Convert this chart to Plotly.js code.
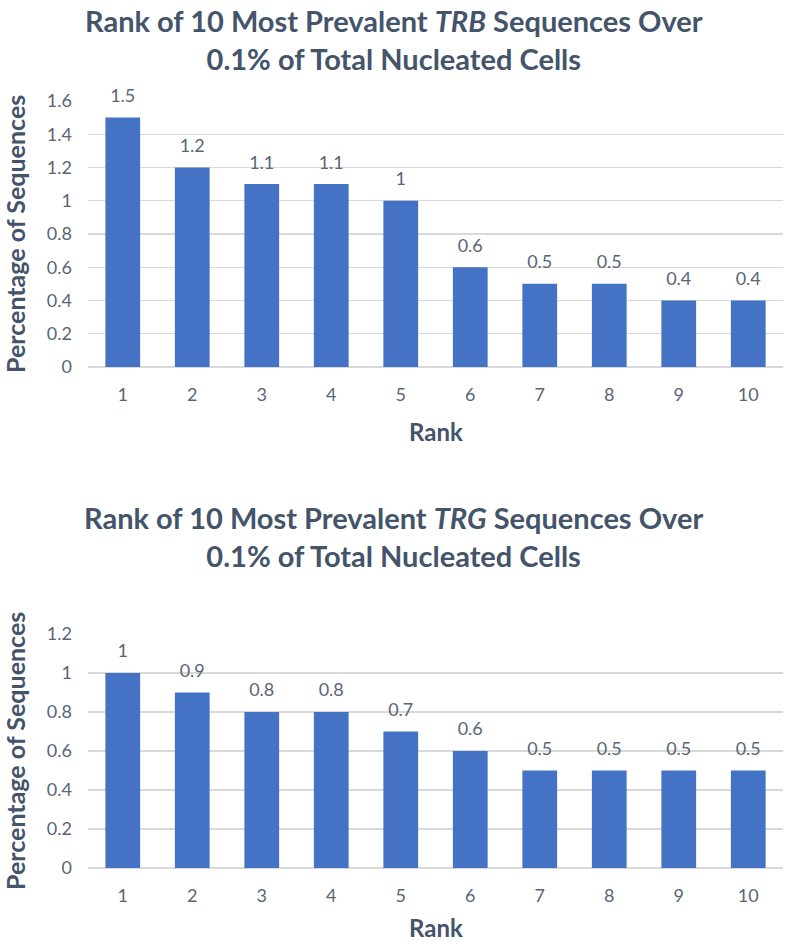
<!DOCTYPE html>
<html>
<head>
<meta charset="utf-8">
<script src="https://cdn.plot.ly/plotly-3.0.1.min.js"></script>
<style>html,body{margin:0;padding:0;background:#fff;}#chart{width:787px;height:942px;}</style>
</head>
<body>
<div id="chart"></div>
<script>
const ranks = ["1","2","3","4","5","6","7","8","9","10"];
const trbValues = [1.5, 1.2, 1.1, 1.1, 1, 0.6, 0.5, 0.5, 0.4, 0.4];
const trgValues = [1, 0.9, 0.8, 0.8, 0.7, 0.6, 0.5, 0.5, 0.5, 0.5];
const trbTicks = [0, 0.2, 0.4, 0.6, 0.8, 1, 1.2, 1.4, 1.6];
const trgTicks = [0, 0.2, 0.4, 0.6, 0.8, 1, 1.2];
const titleTop = "Rank of 10 Most Prevalent <i>TRB</i> Sequences Over<br>0.1% of Total Nucleated Cells";
const titleBottom = "Rank of 10 Most Prevalent <i>TRG</i> Sequences Over<br>0.1% of Total Nucleated Cells";
const xTitle = "Rank";
const yTitle = "Percentage of Sequences";

const FONT = "Lato, 'Open Sans', sans-serif";
const BAR = "#4472C4";
const TITLEC = "#44546A";
const TICKC = "#5A6577";

function barTrace(vals, xa, ya) {
  return {
    type: "bar", x: ranks, y: vals, xaxis: xa, yaxis: ya,
    marker: {color: BAR}, hoverinfo: "skip"
  };
}
function labelTrace(vals, xa, ya) {
  return {
    type: "scatter", mode: "markers+text", x: ranks, y: vals, xaxis: xa, yaxis: ya,
    text: vals.map(v => String(v)), textposition: "top center",
    textfont: {family: FONT, size: 18, color: TICKC},
    marker: {size: 16, opacity: 0}, cliponaxis: false, hoverinfo: "skip"
  };
}

const axX = {
  type: "category", range: [-0.5, ranks.length - 0.5], autorange: false,
  showgrid: false, zeroline: false, showline: false,
  ticks: "", tickfont: {family: FONT, size: 18, color: TICKC}, ticklabelstandoff: 15
};
function axY(ticks, range, domain) {
  return {
    domain: domain, range: range, tickvals: ticks, ticktext: ticks.map(String),
    showgrid: true, gridcolor: "#D9D9D9", gridwidth: 1.3,
    zeroline: true, zerolinecolor: "#D9D9D9", zerolinewidth: 1.5,
    showline: false, ticks: "", tickfont: {family: FONT, size: 18, color: TICKC},
    ticklabelstandoff: 15
  };
}

const TX = (393.5 - 88) / 695;
const layout = {
  width: 787, height: 942,
  margin: {l: 88, r: 4, t: 0, b: 0},
  paper_bgcolor: "#fff", plot_bgcolor: "#fff",
  showlegend: false, bargap: 0.5,
  xaxis: Object.assign({}, axX, {anchor: "y"}),
  yaxis: Object.assign(axY(trbTicks, [0, 1.6], [0.6104, 0.8928]), {anchor: "x"}),
  xaxis2: Object.assign({}, axX, {anchor: "y2"}),
  yaxis2: Object.assign(axY(trgTicks, [0, 1.2], [0.0786, 0.3270]), {anchor: "x2"}),
  annotations: [
    {text: titleTop, xref: "paper", yref: "paper", x: TX, y: 1 - 40/942, xanchor: "center", yanchor: "middle", showarrow: false,
     font: {family: FONT, size: 29, color: TITLEC, weight: "bold"}},
    {text: titleBottom, xref: "paper", yref: "paper", x: TX, y: 1 - 536/942, xanchor: "center", yanchor: "middle", showarrow: false,
     font: {family: FONT, size: 29, color: TITLEC, weight: "bold"}},
    {text: "<b>" + xTitle + "</b>", xref: "x domain", yref: "paper", x: 0.5, y: 1 - 431/942, xanchor: "center", yanchor: "middle", showarrow: false,
     font: {family: FONT, size: 24, color: TITLEC}},
    {text: "<b>" + xTitle + "</b>", xref: "x2 domain", yref: "paper", x: 0.5, y: 1 - 927/942, xanchor: "center", yanchor: "middle", showarrow: false,
     font: {family: FONT, size: 24, color: TITLEC}},
    {text: "<b>" + yTitle + "</b>", xref: "paper", yref: "y domain", x: -88/695 + 15/695, y: 0.5, xanchor: "center", yanchor: "middle", textangle: -90, showarrow: false,
     font: {family: FONT, size: 25, color: TITLEC}},
    {text: "<b>" + yTitle + "</b>", xref: "paper", yref: "y2 domain", x: -88/695 + 15/695, y: 0.5, xanchor: "center", yanchor: "middle", textangle: -90, showarrow: false,
     font: {family: FONT, size: 25, color: TITLEC}}
  ]
};

Plotly.newPlot("chart", [
  barTrace(trbValues, "x", "y"), labelTrace(trbValues, "x", "y"),
  barTrace(trgValues, "x2", "y2"), labelTrace(trgValues, "x2", "y2")
], layout, {displayModeBar: false, staticPlot: true});
</script>
</body>
</html>
